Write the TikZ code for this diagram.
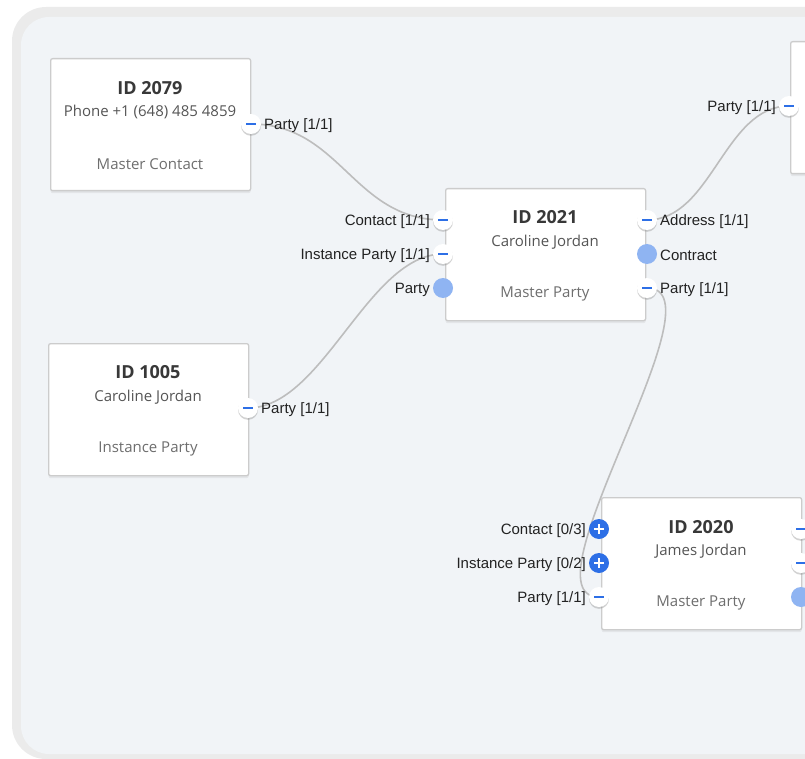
\documentclass[tikz,border=0pt]{standalone}
\usepackage{fontspec}
\setmainfont{Liberation Sans}
\newfontfamily\nfont{Open Sans}
\usetikzlibrary{shadows}
\definecolor{panelouter}{HTML}{EBEBEB}
\definecolor{panelinner}{HTML}{F1F4F7}
\definecolor{boxborder}{HTML}{CCCCCC}
\definecolor{edgec}{HTML}{BDBDBD}
\definecolor{portblue}{HTML}{2D6FE6}
\definecolor{lightport}{HTML}{8FB4F2}
\definecolor{labeltext}{HTML}{222222}
\definecolor{titlec}{HTML}{383838}
\definecolor{subc}{HTML}{555555}
\definecolor{typec}{HTML}{6E6E6E}
\tikzset{
  box/.style={draw=boxborder, line width=1.3pt, fill=white, rounded corners=2pt,
    minimum width=200pt, minimum height=132pt, anchor=north west, inner sep=0pt,
    drop shadow={opacity=0.12, shadow xshift=0pt, shadow yshift=-2.5pt}},
  edge/.style={draw=edgec, line width=1.6pt},
  port/.style={circle, minimum size=20pt, inner sep=0pt, outer sep=0pt},
  pminus/.style={port, fill=white,
    drop shadow={opacity=0.35, shadow xshift=0pt, shadow yshift=-1.8pt},
    path picture={\draw[portblue, line width=2.4pt]
      ([xshift=-5pt]path picture bounding box.center) -- ([xshift=5pt]path picture bounding box.center);}},
  pplus/.style={port, fill=portblue,
    path picture={\draw[white, line width=2.4pt]
      ([xshift=-5pt]path picture bounding box.center) -- ([xshift=5pt]path picture bounding box.center)
      ([yshift=-5pt]path picture bounding box.center) -- ([yshift=5pt]path picture bounding box.center);}},
  pdot/.style={port, fill=lightport},
  lab/.style={font=\fontsize{15}{18}\selectfont, text=labeltext, inner sep=0pt},
  ttl/.style={font=\nfont\fontsize{18}{22}\selectfont\bfseries, text=titlec, inner sep=0pt},
  sub/.style={font=\nfont\fontsize{15}{18}\selectfont, text=subc, inner sep=0pt},
  typ/.style={font=\nfont\fontsize{15}{18}\selectfont, text=typec, inner sep=0pt},
}
\begin{document}
\begin{tikzpicture}[x={(1pt,0)}, y={(0,-1pt)}]
\useasboundingbox (0,0) rectangle (805,759);
\clip (0,0) rectangle (805,759);
% panel
\fill[panelouter, rounded corners=34pt] (12,7) rectangle (900,759);
\fill[panelinner, rounded corners=28pt] (21,17) rectangle (900,754);

% boxes
\node[box] (b2079) at (50,58) {};
\node[box] (b2021) at (445,188) {};
\node[box] (b1005) at (48,343) {};
\node[box] (b2020) at (601,497) {};
\node[box] (bTop) at (790,41) {};

% texts
\node[ttl] (t2079) at (150,88) {ID 2079};
\node[sub] (s2079) at (150,112) {Phone +1 (648) 485 4859};
\node[typ] (y2079) at (150,164) {Master Contact};
\node[ttl] (t2021) at (545,217) {ID 2021};
\node[sub] (s2021) at (545,242) {Caroline Jordan};
\node[typ] (y2021) at (545,294) {Master Party};
\node[ttl] (t1005) at (148,372) {ID 1005};
\node[sub] (s1005) at (148,397) {Caroline Jordan};
\node[typ] (y1005) at (148,449) {Instance Party};
\node[ttl] (t2020) at (701,527) {ID 2020};
\node[sub] (s2020) at (701,551) {James Jordan};
\node[typ] (y2020) at (701,603) {Master Party};

% port coordinates
\coordinate (c2079) at (251,124);
\coordinate (cContact) at (443,220);
\coordinate (cInst) at (443,254);
\coordinate (cParL) at (443,288);
\coordinate (cAddr) at (647,220);
\coordinate (cContr) at (647,254);
\coordinate (cParR) at (647,288);
\coordinate (c1005) at (248,408);
\coordinate (cTop) at (789,106);
\coordinate (cC20) at (599,529);
\coordinate (cI20) at (599,563);
\coordinate (cP20) at (599,597);
\coordinate (cR1) at (801,529);
\coordinate (cR2) at (801,563);
\coordinate (cR3) at (801,597);

% edges
\draw[edge] (c2079) .. controls +(90,0) and +(-90,0) .. (cContact);
\draw[edge] (c1005) .. controls +(75,0) and +(-75,0) .. (cInst);
\draw[edge] (cAddr) .. controls +(65,0) and +(-65,0) .. (cTop);
\draw[edge] (cParR) .. controls +(80,0) and +(-80,0) .. (cP20);

% ports
\node[pminus] (p2079) at (c2079) {};
\node[pminus] (pContact) at (cContact) {};
\node[pminus] (pInst) at (cInst) {};
\node[pdot] (pParL) at (cParL) {};
\node[pminus] (pAddr) at (cAddr) {};
\node[pdot] (pContr) at (cContr) {};
\node[pminus] (pParR) at (cParR) {};
\node[pminus] (p1005) at (c1005) {};
\node[pminus] (pTop) at (cTop) {};
\node[pplus] (pC20) at (cC20) {};
\node[pplus] (pI20) at (cI20) {};
\node[pminus] (pP20) at (cP20) {};
\node[pminus] (pR1) at (cR1) {};
\node[pminus] (pR2) at (cR2) {};
\node[pdot] (pR3) at (cR3) {};

% labels
\tikzset{rl/.style={lab, anchor=west, xshift=3pt, yshift=-1.5pt}, ll/.style={lab, anchor=east, xshift=-3pt, yshift=-1.5pt}}
\node[rl] (l2079) at (p2079.east) {Party [1/1]};
\node[ll] (lContact) at (pContact.west) {Contact [1/1]};
\node[ll] (lInst) at (pInst.west) {Instance Party [1/1]};
\node[ll] (lParL) at (pParL.west) {Party};
\node[rl] (lAddr) at (pAddr.east) {Address [1/1]};
\node[rl] (lContr) at (pContr.east) {Contract};
\node[rl] (lParR) at (pParR.east) {Party [1/1]};
\node[rl] (l1005) at (p1005.east) {Party [1/1]};
\node[ll] (lTop) at (pTop.west) {Party [1/1]};
\node[ll] (lC20) at (pC20.west) {Contact [0/3]};
\node[ll] (lI20) at (pI20.west) {Instance Party [0/2]};
\node[ll] (lP20) at (pP20.west) {Party [1/1]};
\end{tikzpicture}
\end{document}
